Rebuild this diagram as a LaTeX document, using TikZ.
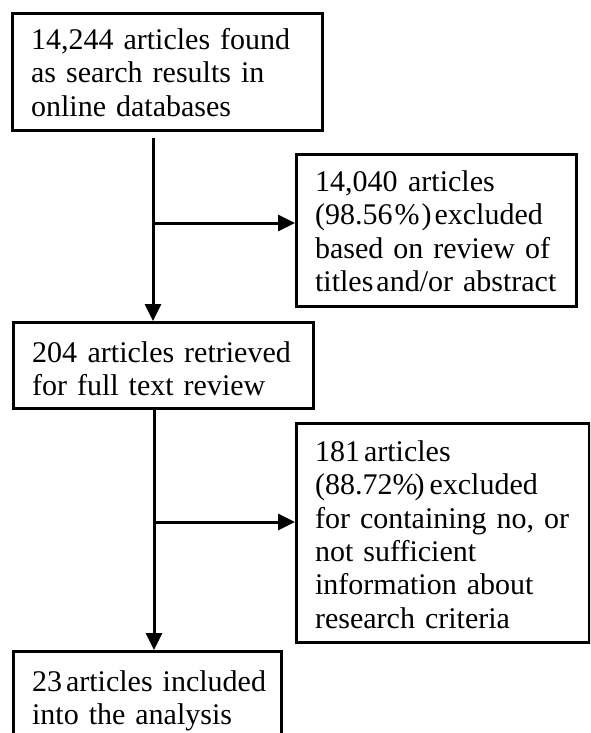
\documentclass[tikz,border=0pt]{standalone}
\usepackage{fontspec}
\setmainfont{Liberation Serif}
\usetikzlibrary{arrows.meta,calc}

\tikzset{
  flowbox/.style={draw=black, line width=3.2pt, anchor=north west, inner ysep=0pt,
    inner xsep=18.5pt, align=left, font=\fontsize{30}{33.3}\selectfont,
    execute at begin node={\hyphenpenalty=10000\exhyphenpenalty=10000}},
  flowarrow/.style={draw=black, line width=3pt,
    -{Triangle[length=17pt,width=16pt]}}
}

\begin{document}
\begin{tikzpicture}[x=1pt,y=-1pt]
  \useasboundingbox (0,0) rectangle (590,733);
  \begin{scope}
    \clip (0,0) rectangle (590,733);

    % boxes: text width = width - 37, text height = first baseline offset
    \node[flowbox, text width=273pt, text height=36pt, text depth=81pt] (b1) at (11,12)
      {14,244~articles~found\\as~search~results~in\\online~databases};
    \node[flowbox, text width=243pt, text height=37pt, text depth=115pt] (b2) at (295,153)
      {14,040\hspace{0.35em}articles\\(98.56\kern2pt\%\kern2pt)\kern3pt excluded\\based~on~review~of\\titles\kern3pt and/or~abstract};
    \node[flowbox, text width=263pt, text height=40pt, text depth=46pt] (b3) at (12,321)
      {204\hspace{0.35em}articles~retrieved\\for~full~text~review};
    \node[flowbox, text width=256pt, text height=38pt, text depth=181pt] (b4) at (295,422)
      {181\kern4pt articles\\(88.72\%\kern-3pt)\kern5pt excluded\\for~containing~no,~or\\not~sufficient\\information~about\\research~criteria};
    \node[flowbox, text width=231pt, text height=40pt, text depth=55pt] (b5) at (12,650)
      {\mbox{23\kern4pt articles~included}\\into~the~analysis};

    % connectors
    \coordinate (s1) at (153,138);
    \coordinate (j1) at (153,223);
    \coordinate (s2) at (154,407);
    \coordinate (j2) at (154,522);
    \draw[flowarrow] (s1) -- (s1 |- b3.north);
    \draw[flowarrow] (j1) -- (j1 -| b2.west);
    \draw[flowarrow] (s2) -- (s2 |- b5.north);
    \draw[flowarrow] (j2) -- (j2 -| b4.west);
  \end{scope}
\end{tikzpicture}
\end{document}
